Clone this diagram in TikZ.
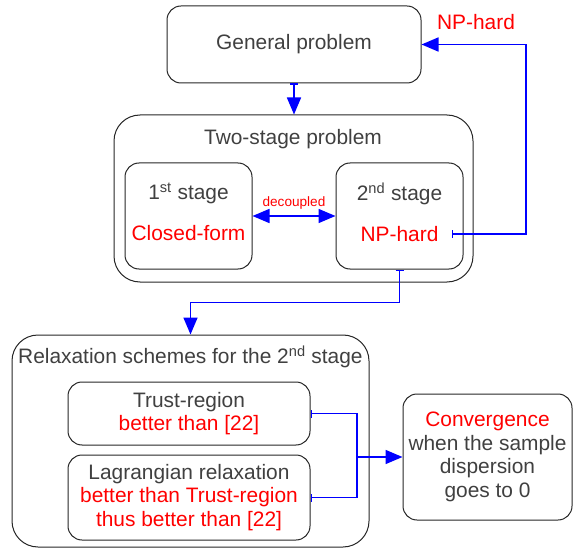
\documentclass[tikz,border=0pt]{standalone}
\usepackage{fontspec}
\setmainfont{Liberation Sans}
\usepackage{xcolor}
\usetikzlibrary{arrows.meta}
\definecolor{txtgray}{HTML}{404040}

\begin{document}
\begin{tikzpicture}[x=1pt, y=-1pt,
  box/.style={draw=black!85, line width=1pt, rounded corners=14pt, align=center, text=txtgray,
    font=\fontsize{20.9}{23.5}\selectfont},
  bigbox/.style={draw=black!85, line width=1pt, rounded corners=26pt},
  flow/.style={draw=blue, line width=1.6pt, -{Triangle[length=17pt,width=14pt]}},
  tick/.style={{Bar[width=8pt,line width=1.2pt]}-{Triangle[length=17pt,width=14pt]}},
  hot/.style={text=red}]
\useasboundingbox (0,0) rectangle (573,548);

\node[box, minimum width=254pt, minimum height=77pt] (gen) at (294,44.5) {General problem};

\node[bigbox, minimum width=359pt, minimum height=167pt] (two) at (293.5,198.5) {};
\node[text=txtgray, font=\fontsize{20.9}{23.5}\selectfont] (twotitle) at (293,139) {Two-stage problem};
\node[box, minimum width=127pt, minimum height=106pt] (first) at (188.5,216)
  {1\textsuperscript{st} stage\\[17pt]{\color{red}Closed-form}\\[-15pt]};
\node[box, minimum width=127pt, minimum height=106pt] (second) at (399.5,216)
  {2\textsuperscript{nd} stage\\[17pt]{\color{red}NP-hard}\\[-15pt]};

\node[bigbox, minimum width=357pt, minimum height=212pt] (relax) at (190.5,441) {};
\node[anchor=west, inner sep=0pt, text=txtgray, font=\fontsize{20.9}{23.5}\selectfont] (relaxtitle) at (18,357)
  {Relaxation schemes for the 2\textsuperscript{nd} stage};
\node[box, minimum width=242pt, minimum height=63pt] (trust) at (189,413.5)
  {Trust-region\\{\color{red}better than [22]}};
\node[box, minimum width=242pt, minimum height=85pt] (lagr) at (189,497.5)
  {Lagrangian relaxation\\{\color{red}better than Trust-region}\\{\color{red}thus better than [22]}};

\node[box, minimum width=169pt, minimum height=126pt] (conv) at (487.5,457)
  {{\color{red}Convergence}\\when the sample\\dispersion\\goes to 0};

\node[hot, font=\fontsize{20.9}{23.5}\selectfont] (hardlabel) at (476,22) {NP-hard};

\coordinate (hardend) at (452,234);
\coordinate (join) at (357,457);

% connectors
\draw[flow, tick] (gen.south) -- (gen.south |- two.north);
\draw[flow, {Triangle[length=17pt,width=14pt]}-{Triangle[length=17pt,width=14pt]}] (first.east) --
  node[above=3pt, hot, font=\fontsize{13.6}{15}\selectfont] (declabel) {decoupled} (second.west);
\draw[flow, tick] (hardend) -- ++(74,0) |- (gen.east);
\draw[flow, tick] (second.south) -- ++(0,33) -| (relax.north);
\draw[draw=blue, line width=1.6pt, {Bar[width=8pt,line width=1.2pt]}-{Bar[width=8pt,line width=1.2pt]}]
  (trust.east) -| (join) |- (lagr.east);
\draw[flow] (join) -- (conv.west);
\end{tikzpicture}
\end{document}
